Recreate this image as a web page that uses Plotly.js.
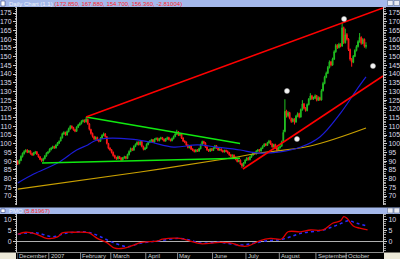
<!DOCTYPE html>
<html><head><meta charset="utf-8">
<script src="https://cdn.plot.ly/plotly-3.0.1.min.js"></script>
<style>html,body{margin:0;padding:0;background:#000;}#chart{width:400px;height:259px;}</style>
</head><body><div id="chart"></div>
<script>
// ---- daily OHLC (trading days from Dec 2006) ----
const openP = [
90.0,88.7,90.4,92.6,94.3,95.5,96.4,95.1,95.9,94.4,
93.5,94.6,95.4,93.8,92.5,91.2,90.1,91.4,92.9,94.5,
95.3,96.6,97.4,98.5,97.5,99.0,100.3,101.6,103.4,105.6,
106.5,105.0,106.9,108.5,110.1,109.3,108.1,107.1,109.4,110.7,
111.5,112.7,113.5,112.5,114.1,111.4,108.2,106.0,104.1,102.7,
103.7,102.0,101.4,103.1,104.7,105.7,104.0,100.1,97.5,96.6,
95.1,93.3,92.1,91.3,92.7,91.9,90.7,91.8,92.6,91.5,
93.7,95.5,97.3,96.3,98.4,99.5,100.9,99.4,101.3,98.5,
96.7,97.4,99.5,100.7,101.4,102.3,100.9,102.5,103.2,101.7,
102.8,103.5,102.6,101.5,102.7,103.6,102.5,101.7,102.9,104.1,
105.5,106.9,104.8,105.6,103.3,101.6,100.9,99.3,97.7,98.7,
97.0,96.3,95.4,96.5,95.7,97.1,99.4,101.3,100.5,98.2,
96.6,95.7,97.1,96.1,97.4,98.9,97.7,96.3,97.0,96.1,
95.3,96.2,95.7,94.9,93.7,92.7,93.5,92.2,91.1,89.7,
90.6,88.5,87.1,88.9,90.5,91.9,90.8,92.3,93.5,95.0,
94.1,95.7,96.6,95.8,97.3,98.5,99.9,99.0,100.5,101.5,
99.9,98.1,99.6,97.7,96.2,97.7,98.6,101.5,107.0,118.8,
116.0,117.9,114.5,112.7,114.2,112.5,115.7,117.3,115.3,119.5,
122.9,120.5,119.0,122.4,125.5,127.5,125.7,126.1,127.6,124.9,
126.5,125.1,130.4,134.5,138.1,140.4,143.7,147.0,145.1,148.5,
152.7,156.5,155.1,157.1,156.0,166.6,157.9,162.6,160.1,154.1,
148.6,146.7,150.1,153.4,155.7,158.5,161.1,157.5,159.9,155.8];
const highP = [
90.6,91.0,93.3,95.0,96.3,96.9,96.8,96.4,96.2,94.9,
95.3,95.9,95.8,94.2,92.9,91.6,92.0,93.5,95.1,95.8,
97.4,98.1,98.9,98.8,99.7,101.0,101.9,104.1,106.4,107.2,
106.9,107.6,109.2,110.7,110.5,109.7,108.5,110.0,111.4,112.3,
113.5,114.0,113.9,115.3,114.5,111.8,108.6,106.4,104.6,104.3,
104.0,102.6,103.8,105.4,106.4,106.1,104.4,100.5,98.0,97.0,
95.5,93.7,92.5,93.2,93.0,92.2,92.4,93.1,93.0,94.3,
96.2,97.8,97.7,99.1,100.2,101.4,101.3,101.8,101.7,98.9,
98.1,100.2,101.4,102.0,102.8,102.7,103.1,103.6,103.5,103.4,
104.0,103.9,103.0,103.3,104.1,104.0,102.9,103.5,104.7,106.2,
108.0,107.3,106.1,106.0,103.7,102.0,101.3,99.7,99.1,99.0,
97.4,96.7,96.9,96.9,97.7,100.0,101.8,101.7,100.9,98.6,
97.0,97.5,97.5,98.0,99.3,99.3,98.1,97.4,97.4,96.5,
96.6,96.6,96.1,95.3,94.1,93.9,93.9,92.6,91.5,91.0,
91.0,88.9,89.5,91.1,92.3,92.3,92.9,94.1,95.4,95.4,
96.3,97.0,97.0,97.9,99.1,100.3,100.3,101.1,102.2,101.9,
100.3,100.0,100.0,98.1,98.3,99.0,101.8,108.0,125.5,119.5,
118.6,118.3,115.0,114.8,114.6,116.5,118.0,117.8,120.2,125.0,
123.4,121.0,123.1,126.2,129.0,128.0,127.0,128.3,128.0,127.2,
127.0,131.3,135.5,139.0,141.4,144.6,147.8,147.5,149.4,153.6,
157.3,157.1,157.9,157.6,169.5,167.2,166.0,163.5,160.6,154.6,
149.2,150.9,154.2,156.6,159.4,163.5,161.6,160.6,160.4,158.2];
const lowP = [
87.8,88.2,90.0,92.1,93.8,95.0,94.6,94.7,93.8,93.0,
93.2,94.1,93.5,92.0,90.6,89.6,89.8,91.0,92.6,94.0,
95.0,96.2,97.0,97.1,97.3,98.7,99.9,101.3,103.0,105.1,
104.6,104.7,106.5,108.1,108.6,107.5,106.6,106.8,109.0,110.3,
111.1,112.2,112.0,112.2,110.9,107.6,105.2,103.5,102.1,102.3,
101.5,100.8,101.1,102.7,104.3,103.5,99.6,96.8,95.9,94.4,
92.6,91.4,90.7,91.0,91.2,90.1,90.4,91.4,91.0,91.2,
93.3,95.1,95.8,96.0,98.0,99.1,99.0,99.1,97.9,96.2,
96.3,97.1,99.1,100.3,101.0,100.5,100.6,102.1,101.3,101.4,
102.4,102.0,101.1,101.2,102.3,101.9,101.3,101.4,102.5,103.7,
105.1,104.4,104.4,102.7,101.0,100.3,98.7,97.3,97.4,96.4,
95.7,95.0,95.1,95.3,95.4,96.8,99.0,99.9,97.6,96.0,
95.3,95.4,95.7,95.8,97.0,97.1,95.9,96.0,95.5,94.9,
95.0,95.1,94.3,93.1,92.3,92.4,91.6,90.5,89.3,89.4,
87.9,86.0,86.8,88.5,90.1,90.4,90.5,91.9,93.1,93.7,
93.8,95.3,95.4,95.5,96.9,98.1,98.6,98.7,100.1,99.3,
97.7,97.8,97.1,95.0,95.9,97.3,98.2,101.0,106.5,115.0,
115.2,114.0,112.0,112.2,111.0,112.0,115.2,114.6,115.0,119.0,
119.8,118.4,118.6,122.0,125.0,125.1,125.2,125.7,124.3,124.5,
124.6,124.8,130.0,134.1,137.6,140.0,143.2,144.4,144.7,148.0,
152.2,154.4,154.7,155.3,155.6,157.2,157.5,159.2,153.2,147.6,
144.2,146.2,149.7,153.0,155.2,158.0,156.8,157.0,155.1,154.6];
const closeP = [
88.5,90.5,92.8,94.5,95.6,96.2,95.0,95.8,94.2,93.6,
94.8,95.3,93.9,92.4,91.0,90.2,91.5,93.0,94.6,95.2,
96.8,97.5,98.4,97.6,99.2,100.5,101.4,103.5,105.8,106.4,
105.2,107.0,108.6,110.0,109.2,108.0,107.2,109.5,110.8,111.6,
112.8,113.4,112.6,114.2,111.5,108.3,105.9,104.2,102.8,103.6,
102.1,101.5,103.2,104.8,105.6,104.1,100.2,97.4,96.5,95.0,
93.2,92.0,91.4,92.6,91.8,90.8,91.9,92.5,91.6,93.8,
95.6,97.2,96.4,98.5,99.6,100.8,99.5,101.2,98.4,96.8,
97.5,99.6,100.8,101.5,102.2,101.0,102.6,103.1,101.8,102.9,
103.4,102.5,101.6,102.8,103.5,102.4,101.8,103.0,104.2,105.6,
106.8,104.9,105.5,103.2,101.5,100.8,99.2,97.8,98.6,96.9,
96.2,95.5,96.4,95.8,97.2,99.5,101.2,100.4,98.1,96.5,
95.8,97.0,96.2,97.5,98.8,97.6,96.4,96.9,96.0,95.4,
96.1,95.6,94.8,93.6,92.8,93.4,92.1,91.0,89.8,90.5,
88.4,87.2,89.0,90.6,91.8,90.9,92.4,93.6,94.9,94.2,
95.8,96.5,95.9,97.4,98.6,99.8,99.1,100.6,101.4,99.8,
98.2,99.5,97.6,96.3,97.8,98.5,101.2,106.5,118.6,116.2,
117.8,114.6,112.8,114.1,112.6,115.8,117.2,115.4,119.6,122.8,
120.4,119.1,122.5,125.6,127.4,125.8,126.2,127.5,125.0,126.4,
125.2,130.5,134.6,138.2,140.5,143.8,146.9,145.2,148.6,152.8,
156.4,155.2,157.0,156.1,166.5,158.0,162.5,160.0,154.0,148.5,
146.8,150.2,153.5,155.8,158.6,161.0,157.6,159.8,155.9,156.4];

// month ticks (first trading day index of each month)
const monthStartDay = [0,20,40,59,81,101,123,144,165,188,207];
const monthLabel = ['December','2007','February','March','April','May','June','July','August','September','October'];

// price axis labels
const priceTicks = [70,75,80,85,90,95,100,105,110,115,120,125,130,135,140,145,150,155,160,165,170,175];
const pmoTicks = [0,5,10];

// moving averages
const maBlueDay = [0,10,25,37,44,47,52,71,83,98,113,125,140,150,165,178,190,203,213,219];
const maBlueVal = [77.5,82.6,88.9,96.4,99.3,101.0,102.7,102.7,101.0,98.1,99.3,98.1,96.4,94.7,95.3,98.1,103.9,117.6,130.8,138.3];
const maGoldDay = [0,77,134,152,184,219];
const maGoldVal = [74.0,83.8,91.8,94.7,98.7,109.0];

// trend lines
const redUpperDay = [42.9,229.7],  redUpperVal = [115.3,177.9];
const redLowerDay = [141.6,229.7], redLowerVal = [85.5,138.9];
const greenUpperDay = [42.9,139.8], greenUpperVal = [115.3,100.2];
const greenLowerDay = [15.2,139.8], greenLowerVal = [88.9,91.7];

// white markers
const dotDay = [169.3,175.6,205.2,223.4];
const dotVal = [130.3,102.7,171.6,144.6];

// lower indicator (PMO) and its signal
const pmoDay = [0,5,12,18,25,28,35,42,45,50,56,61,67,73,77,88,91,102,108,115,127,135,140,145,152,159,166,170,178,184,192,198,203,205,207,211,215,220];
const pmoVal = [3.3,4.2,3.3,1.5,2.1,3.9,4.2,4.2,3.9,1.5,-0.4,-2.9,-2.9,-1.5,-0.4,0.4,1.1,1.5,0.4,-0.9,-0.3,-0.7,-1.9,-1.9,0.4,1.5,1.2,4.4,4.4,5.2,5.2,8.2,9.3,11.1,10.4,7.0,6.0,5.2];
const sigDay = [0,12,22,31,44,52,60,69,77,89,102,110,115,127,140,148,157,167,178,192,201,208,213,220];
const sigVal = [3.4,3.9,2.2,3.9,4.2,2.2,-0.4,-2.2,-0.7,0.4,1.5,0.4,-0.6,-0.3,-1.5,-0.7,0.4,1.2,3.7,5.2,7.4,9.3,8.2,7.0];

const tradingDay = closeP.map((_, k) => k);

// pixel helpers for chrome (title bars etc.)
const px = x => (x - 17) / 366;
const py = y => (252 - y) / 245;

const traces = [
  {type:'candlestick', x:tradingDay, open:openP, high:highP, low:lowP, close:closeP,
   xaxis:'x', yaxis:'y',
   increasing:{line:{color:'#22c022', width:1}, fillcolor:'#139a13'},
   decreasing:{line:{color:'#ff1a1a', width:1}, fillcolor:'#e00000'},
   whiskerwidth:0, hoverinfo:'skip'},
  {type:'scatter', mode:'lines', x:maGoldDay, y:maGoldVal, line:{color:'#c9a000', width:1.2, shape:'spline'}, hoverinfo:'skip'},
  {type:'scatter', mode:'lines', x:maBlueDay, y:maBlueVal, line:{color:'#1c1cd8', width:1.2, shape:'spline'}, hoverinfo:'skip'},
  {type:'scatter', mode:'lines', x:greenUpperDay, y:greenUpperVal, line:{color:'#10e810', width:1.5}, hoverinfo:'skip'},
  {type:'scatter', mode:'lines', x:greenLowerDay, y:greenLowerVal, line:{color:'#10e810', width:1.5}, hoverinfo:'skip'},
  {type:'scatter', mode:'lines', x:redUpperDay, y:redUpperVal, line:{color:'#ff0000', width:1.6}, hoverinfo:'skip'},
  {type:'scatter', mode:'lines', x:redLowerDay, y:redLowerVal, line:{color:'#ff0000', width:1.6}, hoverinfo:'skip'},
  {type:'scatter', mode:'markers', x:dotDay, y:dotVal, marker:{color:'#f4f4f4', size:5, line:{color:'#b0b0b0', width:0.5}}, hoverinfo:'skip'},
  {type:'scatter', mode:'lines', x:sigDay, y:sigVal, xaxis:'x', yaxis:'y2', line:{color:'#2a2aff', width:1.5, dash:'dot', shape:'spline'}, hoverinfo:'skip'},
  {type:'scatter', mode:'lines', x:pmoDay, y:pmoVal, xaxis:'x', yaxis:'y2', line:{color:'#e00000', width:1.3, shape:'spline'}, hoverinfo:'skip'},
  {type:'scatter', x:[null], y:[null], yaxis:'y3', hoverinfo:'skip'},
  {type:'scatter', x:[null], y:[null], yaxis:'y4', hoverinfo:'skip'}
];

const yMain = {range:[64.85,178.44], tickmode:'array', tickvals:priceTicks, ticks:'outside', ticklen:3,
  tickcolor:'#d0d0d0', showline:true, linecolor:'#c8c8c8', linewidth:1, showgrid:false, zeroline:false,
  tickfont:{size:7, color:'#dcdce8'}, minor:{tickmode:'linear', tick0:0, dtick:1, ticks:'outside', ticklen:1.5, tickcolor:'#9a9a9a'}, fixedrange:true};
const yLow = {range:[-4.58,12.3], tickmode:'array', tickvals:pmoTicks, ticks:'outside', ticklen:3,
  tickcolor:'#d0d0d0', showline:true, linecolor:'#c8c8c8', linewidth:1, showgrid:false,
  tickfont:{size:7, color:'#dcdce8'}, minor:{tickmode:'linear', tick0:0, dtick:1, ticks:'outside', ticklen:1.5, tickcolor:'#9a9a9a'}, fixedrange:true};

const barColor = '#a4b8ea';
const shapes = [
  // top title bar
  {type:'rect', xref:'paper', yref:'paper', x0:px(0), x1:px(400), y0:py(7), y1:py(0), fillcolor:barColor, line:{width:0}, layer:'above'},
  {type:'rect', xref:'paper', yref:'paper', x0:px(1), x1:px(5), y0:py(6), y1:py(1), fillcolor:'#ffffff', line:{color:'#203070', width:0.5}, layer:'above'},
  {type:'rect', xref:'paper', yref:'paper', x0:px(387.5), x1:px(393), y0:py(5.5), y1:py(0.5), fillcolor:'#e8eaf2', line:{color:'#506080', width:0.5}, layer:'above'},
  {type:'rect', xref:'paper', yref:'paper', x0:px(394), x1:px(399.5), y0:py(5.5), y1:py(0.5), fillcolor:'#e8eaf2', line:{color:'#506080', width:0.5}, layer:'above'},
  // lower panel title bar
  {type:'rect', xref:'paper', yref:'paper', x0:px(0), x1:px(400), y0:py(214), y1:py(207.5), fillcolor:barColor, line:{width:0}, layer:'above'},
  {type:'rect', xref:'paper', yref:'paper', x0:px(1), x1:px(5), y0:py(212.5), y1:py(209), fillcolor:'#ffffff', line:{color:'#203070', width:0.5}, layer:'above'},
  {type:'rect', xref:'paper', yref:'paper', x0:px(387.5), x1:px(393), y0:py(213), y1:py(208), fillcolor:'#e8eaf2', line:{color:'#506080', width:0.5}, layer:'above'},
  {type:'rect', xref:'paper', yref:'paper', x0:px(394), x1:px(399.5), y0:py(213), y1:py(208), fillcolor:'#e8eaf2', line:{color:'#506080', width:0.5}, layer:'above'},
  // beige corners
  {type:'rect', xref:'paper', yref:'paper', x0:px(0), x1:px(16), y0:py(259), y1:py(252.5), fillcolor:'#ece9d8', line:{width:0}, layer:'above'},
  {type:'rect', xref:'paper', yref:'paper', x0:px(384), x1:px(400), y0:py(259), y1:py(252.5), fillcolor:'#ece9d8', line:{width:0}, layer:'above'}
];
// month dividers in the date row
monthStartDay.forEach(d => shapes.push({type:'line', xref:'x', yref:'paper', x0:d - 0.5, x1:d - 0.5,
  y0:0, y1:py(259), line:{color:'#8c8c8c', width:1}, layer:'above'}));

const annotations = [
  {xref:'paper', yref:'paper', x:px(7), y:py(3.6), xanchor:'left', yanchor:'middle', showarrow:false,
   text:'Daily Chart (1.1) <span style="color:#ff2a2a">(172.850, 167.880, 154.700, 156.360, -2.81004)</span>',
   font:{size:6, color:'#eef2fc'}},
  {xref:'paper', yref:'paper', x:px(7), y:py(210.8), xanchor:'left', yanchor:'middle', showarrow:false,
   text:'PMO <span style="color:#ff2a2a">(5.81967)</span>',
   font:{size:6, color:'#eef2fc'}}
];
// month labels in the date row, just right of each divider
monthStartDay.forEach((d, k) => annotations.push({xref:'x', yref:'paper', x:d, y:py(255.6),
  xanchor:'left', yanchor:'middle', showarrow:false, borderpad:0, text:monthLabel[k],
  font:{size:6, color:'#d4d4d4'}}));

const layout = {
  width:400, height:259,
  margin:{l:17, r:17, t:7, b:7, pad:0},
  paper_bgcolor:'#000000', plot_bgcolor:'#000000',
  showlegend:false,
  font:{family:'Liberation Sans, Arial, sans-serif', size:6, color:'#d8d8e8'},
  xaxis:{range:[-0.5,229.7], anchor:'y2', showticklabels:false, ticks:'',
    showline:true, linecolor:'#8c8c8c', linewidth:1, showgrid:false, zeroline:false,
    rangeslider:{visible:false}, fixedrange:true},
  yaxis:Object.assign({domain:[0.1918,1], anchor:'x', side:'left'}, yMain),
  yaxis3:Object.assign({overlaying:'y', anchor:'x', side:'right'}, yMain),
  yaxis2:Object.assign({domain:[0,0.1551], anchor:'x', side:'left', zeroline:true, zerolinecolor:'#b0b0b0', zerolinewidth:1}, yLow),
  yaxis4:Object.assign({overlaying:'y2', anchor:'x', side:'right', zeroline:false}, yLow),
  shapes:shapes,
  annotations:annotations
};

Plotly.newPlot('chart', traces, layout, {staticPlot:true, displayModeBar:false});
</script>
</body></html>
